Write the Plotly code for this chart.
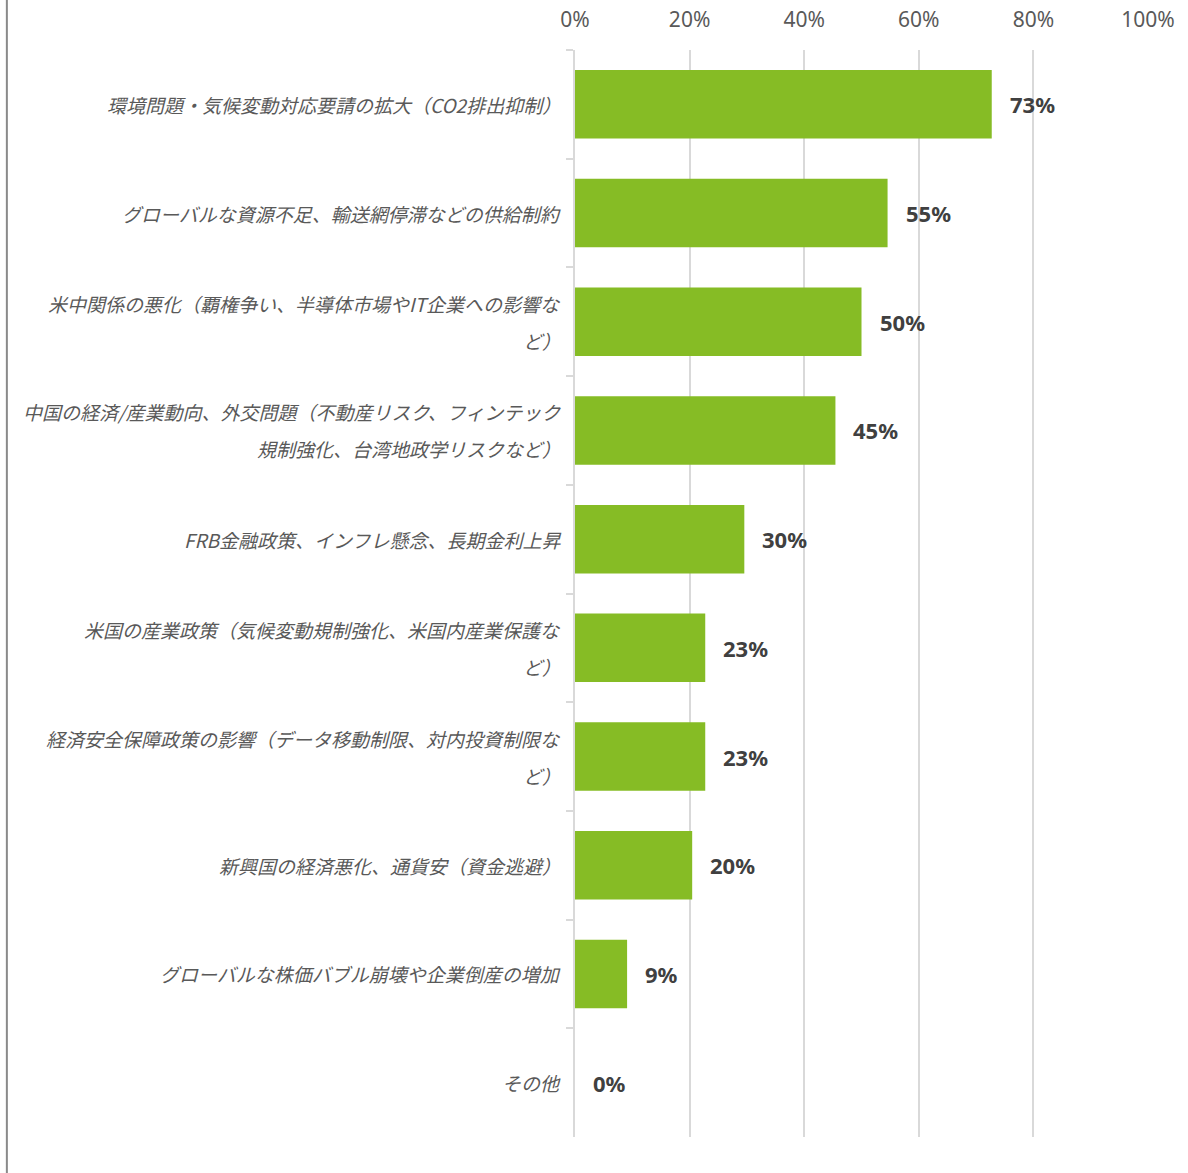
import plotly.graph_objects as go

categories = [
    "環境問題・気候変動対応要請の拡大（CO2排出抑制）",
    "グローバルな資源不足、輸送網停滞などの供給制約",
    "米中関係の悪化（覇権争い、半導体市場やIT企業への影響な<br>ど）",
    "中国の経済/産業動向、外交問題（不動産リスク、フィンテック<br>規制強化、台湾地政学リスクなど）",
    "FRB金融政策、インフレ懸念、長期金利上昇",
    "米国の産業政策（気候変動規制強化、米国内産業保護な<br>ど）",
    "経済安全保障政策の影響（データ移動制限、対内投資制限な<br>ど）",
    "新興国の経済悪化、通貨安（資金逃避）",
    "グローバルな株価バブル崩壊や企業倒産の増加",
    "その他",
]
values = [72.73, 54.55, 50.0, 45.45, 29.55, 22.73, 22.73, 20.45, 9.09, 0.0]
value_labels = [f"{v:.0f}%" for v in values]
x_ticks = [0, 20, 40, 60, 80, 100]
x_tick_labels = [f"{t}%" for t in x_ticks]

GREEN = "#86BC25"
GRID = "#d9d9d9"
LABEL_FONT = "Noto Sans CJK JP"

fig = go.Figure()
fig.add_trace(go.Bar(
    y=categories, x=values, orientation="h",
    marker=dict(color=GREEN, line=dict(width=0)),
    width=0.63, hoverinfo="skip",
))

annotations = []
for cat, v, lab in zip(categories, values, value_labels):
    # value label
    annotations.append(dict(
        x=v, y=cat, xref="x", yref="y", text=lab, showarrow=False,
        xanchor="left", yanchor="middle", xshift=16,
        font=dict(family="Noto Sans", size=22, color="#404040", weight="bold"),
    ))
    # category label (multi-line with wide spacing)
    lines = cat.split("<br>")
    n = len(lines)
    for k, line in enumerate(lines):
        shift = ((n - 1) / 2 - k) * 37
        annotations.append(dict(
            x=0, y=cat, xref="paper", yref="y", text=line, showarrow=False,
            xanchor="right", yanchor="middle", xshift=-12, yshift=shift,
            font=dict(family=LABEL_FONT, size=19, color="#595959", style="italic"),
        ))

fig.update_layout(
    width=1188, height=1173,
    margin=dict(l=575, r=40, t=50, b=36, autoexpand=False),
    paper_bgcolor="white", plot_bgcolor="white",
    showlegend=False,
    annotations=annotations,
    bargap=0.37,
    shapes=[dict(type="line", xref="paper", yref="paper",
                 x0=-0.9915, x1=-0.9915, y0=-0.04, y1=1.05,
                 line=dict(color="#8a8a8a", width=2))],
)
fig.update_xaxes(
    side="top", range=[0, 100], tickvals=x_ticks, ticktext=x_tick_labels,
    showgrid=True, gridcolor=GRID, gridwidth=1.5, zeroline=False,
    showline=False, ticks="", ticklabelstandoff=18, automargin=False,
    tickfont=dict(family="Noto Sans", size=21, color="#595959"),
    fixedrange=True,
)
fig.update_yaxes(
    autorange="reversed", showticklabels=False, showgrid=False,
    showline=True, linecolor=GRID, linewidth=1.5, automargin=False,
    ticks="outside", ticklen=7, tickcolor=GRID, tickwidth=1.5,
    tickson="boundaries", fixedrange=True,
)

fig.write_html("out.html")
